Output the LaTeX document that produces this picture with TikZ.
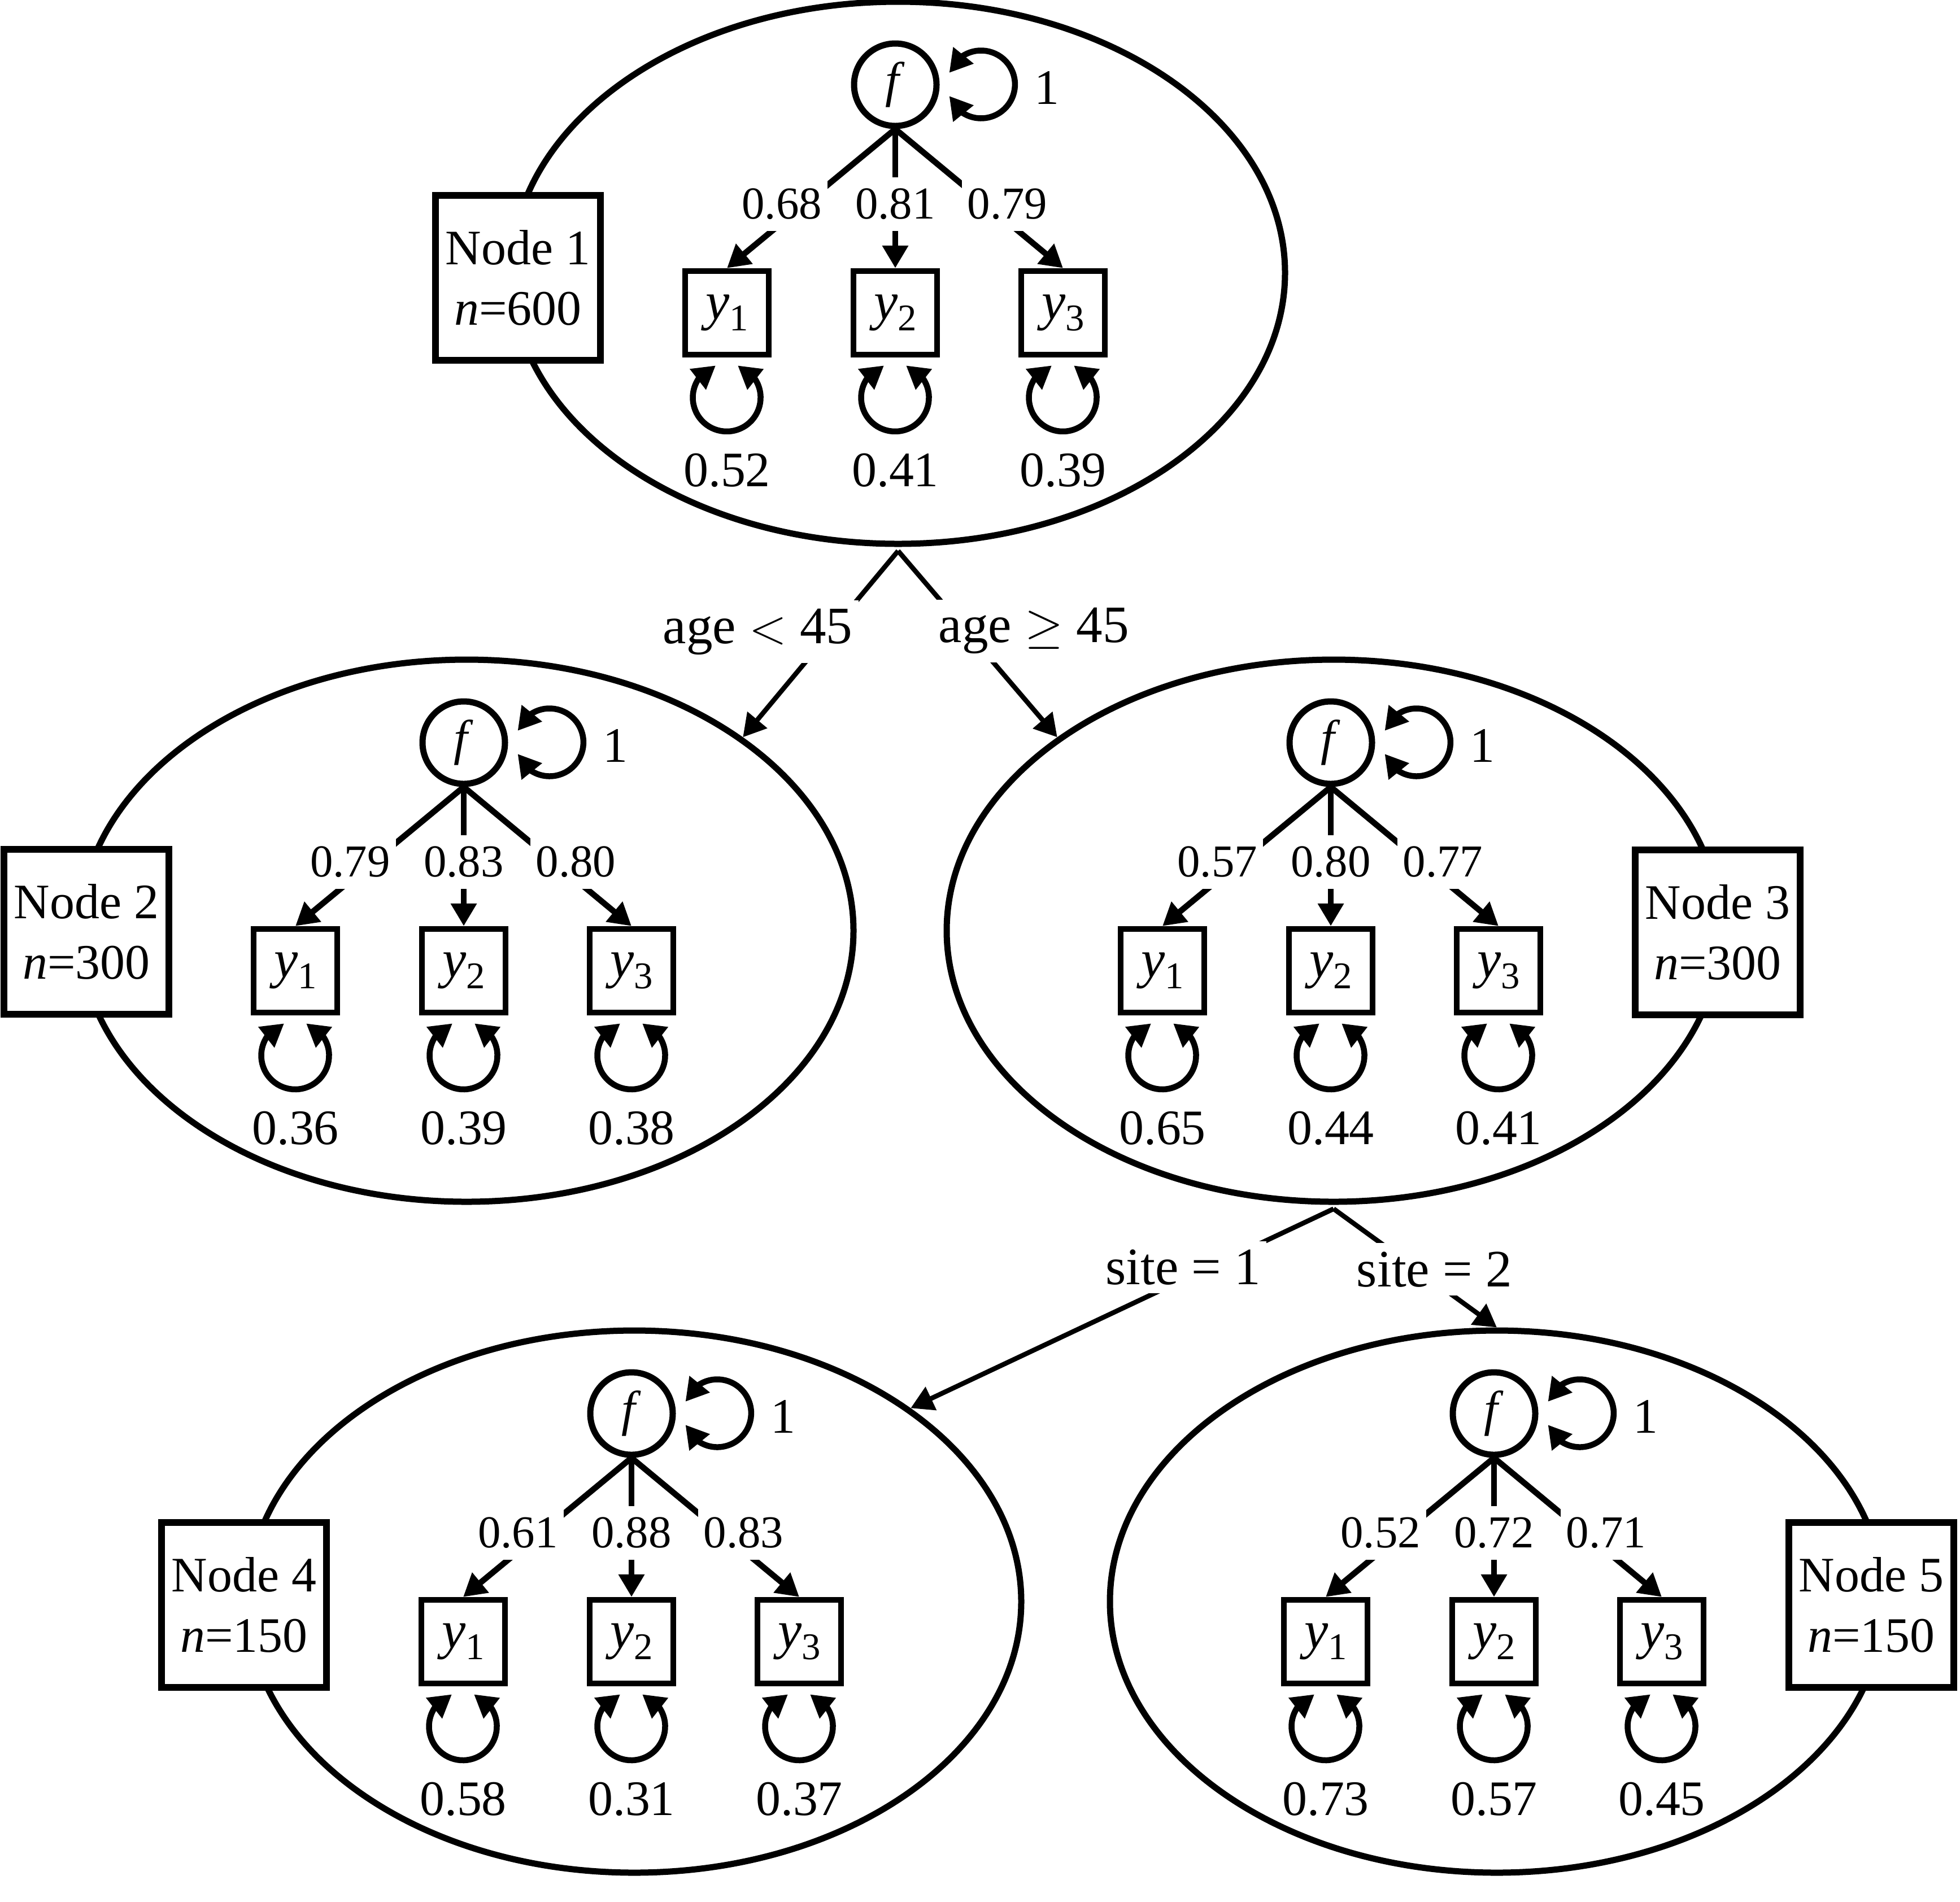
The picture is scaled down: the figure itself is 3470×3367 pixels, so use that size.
\documentclass[tikz,border=0pt]{standalone}
\usepackage{fontspec}
\setmainfont{Liberation Serif}
\usetikzlibrary{arrows.meta, bending, shapes.geometric, positioning}

\begin{document}
\begin{tikzpicture}[
			x=0.1mm, y=-0.1mm,
			line width=1.05mm,
			font=\fontsize{25}{30.5}\selectfont,
			>={Triangle[length=4mm, width=4.4mm]}, % pointes pleines
			tree/.style={ellipse, draw, line width=1.1mm, minimum width=137mm, minimum height=96mm, inner sep=0pt},
			latent/.style={circle, draw, line width=1.1mm, minimum size=14.6mm, inner sep=0pt},
			manifest/.style={rectangle, draw, minimum size=14.8mm, inner sep=0pt, font=\fontsize{27}{30}\selectfont},
			info/.style={rectangle, draw, fill=white, line width=1.15mm, minimum size=29.2mm, inner sep=0pt, align=center},
			load/.style={fill=white, inner xsep=1mm, inner ysep=2mm, font=\fontsize{23}{28}\selectfont},
			rulelbl/.style={fill=white, inner xsep=1mm, inner ysep=1.5mm, font=\fontsize{26.5}{32}\selectfont}
			]

			\useasboundingbox (0,0) rectangle (3470,3367);

			% Les cinq noeuds de l'arbre
			\foreach \i/\fx/\fy/\la/\lb/\lc/\va/\vb/\vc in {
				1/1585/150/0.68/0.81/0.79/0.52/0.41/0.39,
				2/821/1315/0.79/0.83/0.80/0.36/0.39/0.38,
				3/2356/1315/0.57/0.80/0.77/0.65/0.44/0.41,
				4/1118/2503/0.61/0.88/0.83/0.58/0.31/0.37,
				5/2645/2503/0.52/0.72/0.71/0.73/0.57/0.45}{
				\node[tree] (N\i) at (\fx+5,\fy+333) {};
				\node[latent] (f\i) at (\fx,\fy) {\textit{f}};
				\foreach \j/\dx in {1/-298, 2/0, 3/297}
					\node[manifest] (y\i\j) at (\fx+\dx,\fy+404) {\textit{y}\raisebox{-.45ex}{\fontsize{19}{19}\selectfont\j}};
				% variance du facteur
				\draw[<->] ([xshift=1.7mm,yshift=-2mm]f\i.east) arc[start angle=-160, end angle=160, radius=6mm];
				\node (v\i) at (\fx+268,\fy+5) {1};
				% saturations
				\draw[->] (f\i.south) -- node[load, pos=.54, xshift=-4mm] {\la} (y\i1.north);
				\draw[->] (f\i.south) -- node[load, pos=.54] {\lb} (y\i2.north);
				\draw[->] (f\i.south) -- node[load, pos=.54, xshift=3.8mm] {\lc} (y\i3.north);
				% variances residuelles
				\foreach \j/\res in {1/\va, 2/\vb, 3/\vc}{
					\draw[<->] ([xshift=-2mm,yshift=-1.4mm]y\i\j.south) arc[start angle=109, end angle=431, radius=6mm];
					\node (e\i\j) at ([yshift=-27.9mm]y\i\j) {\res};
				}
			}

			% Les etiquettes des noeuds
			\node[info] (b1) at (917,492) {Node 1\\\textit{n}=600};
			\node[info] (b2) at (153,1650) {Node 2\\\textit{n}=300};
			\node[info] (b3) at (3041,1651) {Node 3\\\textit{n}=300};
			\node[info] (b4) at (432,2842) {Node 4\\\textit{n}=150};
			\node[info] (b5) at (3313,2842) {Node 5\\\textit{n}=150};

			% Les coupures
			\draw[->, line width=.85mm] ([yshift=-.7mm]N1.south) -- node[rulelbl, pos=.434, xshift=-12.9mm] {age $<$ 45} (N2.35.5);
			\draw[->, line width=.85mm] ([yshift=-.7mm]N1.south) -- node[rulelbl, pos=.43, xshift=11.9mm] {age $\geq$ 45} (N3.145);
			\draw[->, line width=.85mm] ([yshift=-.7mm]N3.south) -- node[rulelbl, pos=.293, xshift=-4.7mm] {site = 1} (N4.35);
			\draw[->, line width=.85mm] ([yshift=-.7mm]N3.south) -- node[rulelbl, pos=.51, xshift=3.1mm] {site = 2} (N5.north);
		\end{tikzpicture}
\end{document}
